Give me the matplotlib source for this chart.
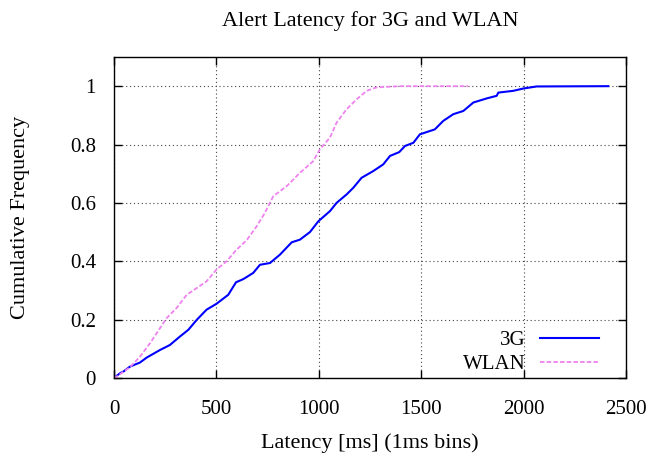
import matplotlib
matplotlib.use("Agg")
import matplotlib.pyplot as plt

# ── Data (latency ms, cumulative frequency) ─────────────────────────────────

latency_3g = [0, 29, 46, 78, 127, 160, 225, 273, 322, 363, 404, 452, 500, 558,
              596, 632, 680, 713, 762, 811, 868, 908, 957, 998, 1055, 1087,
              1136, 1169, 1209, 1266, 1315, 1348, 1393, 1421, 1462, 1494, 1567,
              1608, 1657, 1706, 1755, 1820, 1869, 1877, 1950, 1999, 2064, 2414]
cdf_3g = [0.0, 0.016, 0.022, 0.039, 0.053, 0.07, 0.096, 0.113, 0.142, 0.165,
          0.199, 0.234, 0.254, 0.285, 0.328, 0.339, 0.36, 0.388, 0.394, 0.423,
          0.465, 0.474, 0.5, 0.537, 0.572, 0.6, 0.629, 0.652, 0.686, 0.709,
          0.732, 0.761, 0.774, 0.795, 0.806, 0.835, 0.852, 0.881, 0.904, 0.915,
          0.944, 0.958, 0.967, 0.978, 0.984, 0.992, 0.999, 1.0]

latency_wlan = [0, 13, 78, 127, 176, 225, 257, 306, 355, 404, 452, 500, 550,
                599, 648, 697, 737, 778, 843, 908, 973, 1006, 1055, 1087, 1136,
                1185, 1234, 1283, 1396, 1730]
cdf_wlan = [0.0, 0.005, 0.037, 0.073, 0.119, 0.171, 0.205, 0.24, 0.285, 0.308,
            0.331, 0.371, 0.4, 0.44, 0.472, 0.52, 0.566, 0.623, 0.657, 0.703,
            0.743, 0.784, 0.824, 0.875, 0.921, 0.955, 0.984, 0.996, 1.0, 1.0]

x_ticks = [0, 500, 1000, 1500, 2000, 2500]
y_ticks = [0, 0.2, 0.4, 0.6, 0.8, 1]
y_tick_labels = ["0", "0.2", "0.4", "0.6", "0.8", "1"]

plt.rcParams["font.family"] = ["Liberation Serif", "DejaVu Serif"]
plt.rcParams["font.size"] = 15

fig = plt.figure(figsize=(6.52, 4.53), dpi=100)
ax = fig.add_axes([0.1748, 0.1656, 0.7852, 0.7086])

ax.plot(latency_3g, cdf_3g, color="#0000ff", linewidth=1.5, label="3G")
ax.plot(latency_wlan, cdf_wlan, color="#ee82ee", linewidth=1.3,
        linestyle=(0, (2.5, 1.2)), label="WLAN")

ax.set_xlim(0, 2500)
ax.set_ylim(0, 1.1)
ax.set_xticks(x_ticks)
ax.set_yticks(y_ticks)
ax.set_yticklabels(y_tick_labels)
ax.tick_params(direction="in", top=True, right=True, length=6, width=1)
ax.tick_params(axis="x", pad=16)
ax.tick_params(axis="y", pad=13)
ax.grid(True, color="#444444", linestyle=(0, (1, 2.5)), linewidth=0.8)
for s in ax.spines.values():
    s.set_linewidth(1.0)

ax.set_xlabel("Latency [ms] (1ms bins)", fontsize=16, labelpad=10)
ax.set_ylabel("Cumulative Frequency", fontsize=16, labelpad=29)
ax.set_title("Alert Latency for 3G and WLAN", fontsize=16, pad=22)

ax.legend(loc="lower right", bbox_to_anchor=(0.947, 0.012), frameon=False,
          markerfirst=False, handlelength=2.8, handletextpad=0.7,
          borderaxespad=0, borderpad=0, labelspacing=0.2, fontsize=15)

fig.savefig("out.png", dpi=100)
